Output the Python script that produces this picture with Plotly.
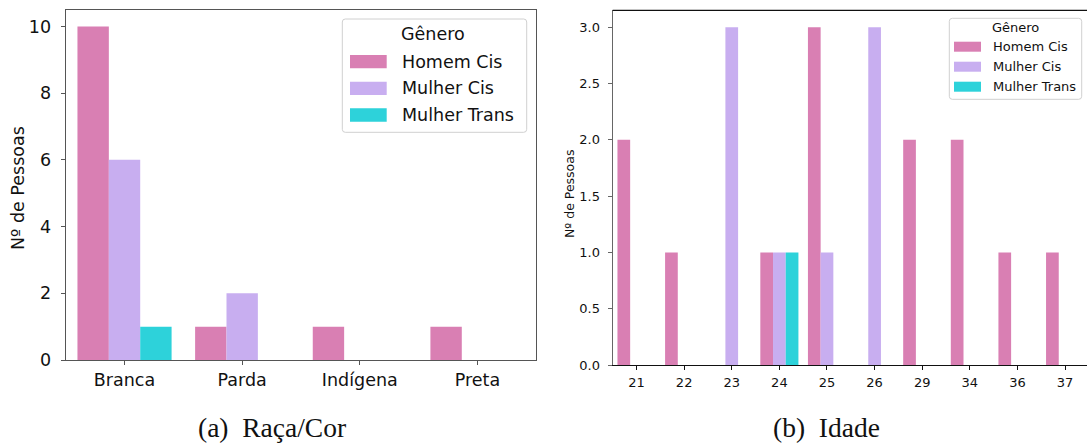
import plotly.graph_objects as go

# ---- data -------------------------------------------------------------
generos = ["Homem Cis", "Mulher Cis", "Mulher Trans"]
cores = ["#D97FB3", "#C8AEF0", "#2DD2DA"]

racas = ["Branca", "Parda", "Indígena", "Preta"]
raca_homem_cis = [10, 1, 1, 1]
raca_mulher_cis = [6, 2, 0, 0]
raca_mulher_trans = [1, 0, 0, 0]

idades = ["21", "22", "23", "24", "25", "26", "29", "34", "36", "37"]
idade_homem_cis = [2, 1, 0, 1, 3, 0, 2, 2, 1, 1]
idade_mulher_cis = [0, 0, 3, 1, 1, 3, 0, 0, 0, 0]
idade_mulher_trans = [0, 0, 0, 1, 0, 0, 0, 0, 0, 0]

W, H = 1087, 443


def px(x):
    return x / W


def py(y):
    return 1 - y / H


fig = go.Figure()

raca_series = [raca_homem_cis, raca_mulher_cis, raca_mulher_trans]
idade_series = [idade_homem_cis, idade_mulher_cis, idade_mulher_trans]

for nome, cor, vals in zip(generos, cores, raca_series):
    fig.add_trace(go.Bar(x=racas, y=vals, name=nome, marker=dict(color=cor, line=dict(width=0)),
                         xaxis="x", yaxis="y", showlegend=False, offsetgroup=nome))
for nome, cor, vals in zip(generos, cores, idade_series):
    fig.add_trace(go.Bar(x=idades, y=vals, name=nome, marker=dict(color=cor, line=dict(width=0)),
                         xaxis="x2", yaxis="y2", showlegend=False, offsetgroup=nome))

tick_font_a = dict(family="DejaVu Sans", size=17.5, color="#111")
tick_font_b = dict(family="DejaVu Sans", size=13, color="#111")

fig.update_layout(
    width=W, height=H,
    margin=dict(l=0, r=0, t=0, b=0, autoexpand=False),
    paper_bgcolor="white", plot_bgcolor="white",
    barmode="group", bargap=0.2, bargroupgap=0,
    xaxis=dict(domain=[px(65.7), px(536.3)], anchor="y", type="category", automargin=False,
               range=[-0.5, 3.5], showgrid=False, zeroline=False,
               showline=True, linecolor="#555", linewidth=1.3, mirror=True,
               ticks="outside", ticklen=4, tickcolor="#555", tickwidth=1.2,
               tickfont=tick_font_a, ticklabelstandoff=0),
    yaxis=dict(domain=[py(360), py(9.7)], anchor="x", range=[0, 10.5], automargin=False,
               tickvals=[0, 2, 4, 6, 8, 10], showgrid=False, zeroline=False,
               showline=True, linecolor="#555", linewidth=1.3, mirror=True,
               ticks="outside", ticklen=4, tickcolor="#555", tickwidth=1.2,
               tickfont=tick_font_a, ticklabelstandoff=6),
    xaxis2=dict(domain=[px(612.7), 1.0], anchor="y2", type="category", automargin=False,
                range=[-0.5, 9.46], showgrid=False, zeroline=False,
                showline=True, linecolor="#111", linewidth=1.2,
                ticks="outside", ticklen=4, tickcolor="#111", tickwidth=1.1,
                tickfont=tick_font_b, ticklabelstandoff=1),
    yaxis2=dict(domain=[py(365), py(10.3)], anchor="x2", range=[0, 3.15], automargin=False,
                tickvals=[0, 0.5, 1, 1.5, 2, 2.5, 3], tickformat=".1f",
                showgrid=False, zeroline=False,
                showline=True, linecolor="#666", linewidth=1.2,
                ticks="outside", ticklen=4, tickcolor="#666", tickwidth=1.1,
                tickfont=tick_font_b, ticklabelstandoff=5),
)

shapes = []
annotations = []

# top spine of the age panel
shapes.append(dict(type="line", xref="paper", yref="paper",
                   x0=px(612.7), x1=1.0, y0=py(10.3), y1=py(10.3),
                   line=dict(color="#111", width=1.2)))


def rounded_box(x0, y0, x1, y1, r):
    X0, X1 = px(x0), px(x1)
    Y0, Y1 = py(y0), py(y1)
    rx, ry = r / W, r / H
    return (f"M {X0 + rx},{Y0} L {X1 - rx},{Y0} Q {X1},{Y0} {X1},{Y0 - ry} "
            f"L {X1},{Y1 + ry} Q {X1},{Y1} {X1 - rx},{Y1} "
            f"L {X0 + rx},{Y1} Q {X0},{Y1} {X0},{Y1 + ry} "
            f"L {X0},{Y0 - ry} Q {X0},{Y0} {X0 + rx},{Y0} Z")


def legenda(box, title_xy, patch_x, patch_h, rows_y, text_x, fsize):
    shapes.append(dict(type="path", xref="paper", yref="paper",
                       path=rounded_box(*box, 3),
                       fillcolor="rgba(255,255,255,0.85)",
                       line=dict(color="#d0d0d0", width=1)))
    annotations.append(dict(text="Gênero", x=px(title_xy[0]), y=py(title_xy[1]),
                            xref="paper", yref="paper", showarrow=False,
                            xanchor="center", yanchor="middle",
                            font=dict(family="DejaVu Sans", size=fsize, color="#111")))
    for nome, cor, yc in zip(generos, cores, rows_y):
        shapes.append(dict(type="rect", xref="paper", yref="paper",
                           x0=px(patch_x[0]), x1=px(patch_x[1]),
                           y0=py(yc + patch_h / 2), y1=py(yc - patch_h / 2),
                           fillcolor=cor, line=dict(width=0)))
        annotations.append(dict(text=nome, x=px(text_x), y=py(yc),
                                xref="paper", yref="paper", showarrow=False,
                                xanchor="left", yanchor="middle",
                                font=dict(family="DejaVu Sans", size=fsize, color="#111")))


legenda((342.3, 19, 526.7, 132.3), (433.3, 34.3), (350, 386.7), 13.3,
        [61.7, 88.3, 115], 399.5, 17.5)
legenda((949.3, 18.3, 1081.7, 99.3), (1015, 27.7), (954, 981), 10,
        [46.7, 66.7, 86.7], 990.5, 13)

# axis titles
annotations.append(dict(text="Nº de Pessoas", x=px(18), y=py(188), xref="paper", yref="paper",
                        showarrow=False, textangle=-90, xanchor="center", yanchor="middle",
                        font=dict(family="DejaVu Sans", size=17.5, color="#111")))
annotations.append(dict(text="Nº de Pessoas", x=px(570), y=py(194), xref="paper", yref="paper",
                        showarrow=False, textangle=-90, xanchor="center", yanchor="middle",
                        font=dict(family="DejaVu Sans", size=12.5, color="#111")))

# subfigure captions
cap_font = dict(family="Liberation Serif", size=27.5, color="#111")
annotations.append(dict(text="(a)\u00a0 Raça/Cor", x=px(272), y=py(427), xref="paper", yref="paper",
                        showarrow=False, xanchor="center", yanchor="middle", font=cap_font))
annotations.append(dict(text="(b)\u00a0 Idade", x=px(826), y=py(427), xref="paper", yref="paper",
                        showarrow=False, xanchor="center", yanchor="middle", font=cap_font))

fig.update_layout(shapes=shapes, annotations=annotations)

fig.write_html("out.html")
